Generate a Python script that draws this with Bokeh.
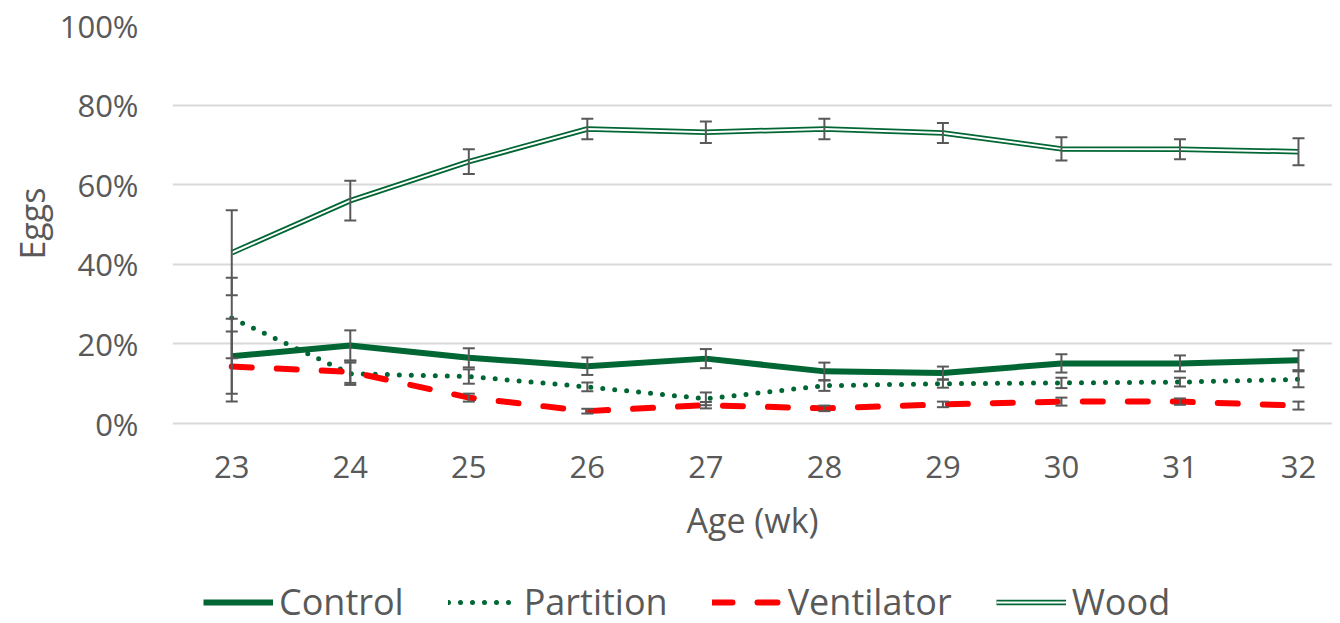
from bokeh.plotting import figure
from bokeh.models import (ColumnDataSource, Range1d, Whisker, TeeHead, Legend, LegendItem,
                          NumeralTickFormatter, FixedTicker, Title)
from bokeh.embed import file_html
from bokeh.resources import INLINE

# ---- data (percent) ----
ages = [23, 24, 25, 26, 27, 28, 29, 30, 31, 32]
control = [16.9, 19.6, 16.5, 14.4, 16.3, 13.1, 12.7, 15.1, 15.1, 15.9]
control_err = [9.4, 3.8, 2.4, 2.2, 2.4, 2.2, 1.6, 2.3, 2.0, 2.5]
partition = [26.5, 12.5, 11.8, 9.2, 6.2, 9.5, 10.0, 10.2, 10.4, 11.1]
partition_err = [10.1, 2.8, 1.8, 1.1, 1.6, 1.3, 1.0, 1.3, 1.1, 2.0]
ventilator = [14.3, 13.0, 6.5, 3.1, 4.6, 3.8, 4.8, 5.5, 5.5, 4.5]
ventilator_err = [8.8, 2.8, 1.0, 0.6, 0.8, 0.7, 0.7, 1.0, 0.8, 1.0]
wood = [42.9, 56.0, 65.8, 74.0, 73.2, 74.0, 73.0, 69.0, 68.9, 68.3]
wood_err = [10.7, 5.0, 3.1, 2.6, 2.7, 2.6, 2.5, 2.9, 2.5, 3.4]
y_ticks = [0, 0.2, 0.4, 0.6, 0.8, 1.0]

GREEN = "#006633"
RED = "#FF0000"
GRAY = "#595959"
FONT = "Open Sans"

# layout: the 0..100% band is 398 px tall; the frame extends below it to hold
# the x-axis labels and the legend
BAND_PX = 398
FRAME_H = 598
Y_START = 1 - FRAME_H / BAND_PX


def make_src(vals, errs):
    return ColumnDataSource(dict(
        x=ages,
        y=[v / 100 for v in vals],
        upper=[(v + e) / 100 for v, e in zip(vals, errs)],
        lower=[(v - e) / 100 for v, e in zip(vals, errs)],
    ))


src_c = make_src(control, control_err)
src_p = make_src(partition, partition_err)
src_v = make_src(ventilator, ventilator_err)
src_w = make_src(wood, wood_err)

p = figure(frame_width=1160, frame_height=FRAME_H, output_backend="svg", toolbar_location=None,
           x_range=Range1d(22.5, 32.287), y_range=Range1d(Y_START, 1),
           min_border_left=172, min_border_right=0, min_border_top=25, min_border_bottom=0)
p.outline_line_color = None
p.background_fill_color = "white"
p.border_fill_color = "white"

p.xgrid.visible = False
p.ygrid.grid_line_color = "#D9D9D9"
p.ygrid.grid_line_width = 2

p.yaxis.ticker = FixedTicker(ticks=y_ticks)
p.yaxis.formatter = NumeralTickFormatter(format="0%")
p.xaxis.ticker = FixedTicker(ticks=ages)
p.xaxis.fixed_location = 0

for ax in (p.xaxis[0], p.yaxis[0]):
    ax.axis_line_color = None
    ax.major_tick_line_color = None
    ax.minor_tick_line_color = None
    ax.major_tick_out = 0
    ax.major_tick_in = 0
    ax.major_label_text_font = FONT
    ax.major_label_text_color = GRAY
    ax.major_label_text_font_size = "31px"
    ax.axis_label_text_font = FONT
    ax.axis_label_text_color = GRAY
    ax.axis_label_text_font_size = "34px"
    ax.axis_label_text_font_style = "normal"

p.yaxis.major_label_standoff = 34
p.xaxis.axis_label = "Age (wk)"
p.xaxis.major_label_standoff = 32
p.xaxis.axis_label_standoff = 16

# y-axis title, centred on the 0..100% band rather than on the whole frame
p.add_layout(Title(text="Eggs", align="right", offset=162, vertical_align="top", standoff=0,
                   text_font=FONT, text_font_size="34px", text_color=GRAY,
                   text_font_style="normal"), "left")

r_c = p.line("x", "y", source=src_c, line_color=GREEN, line_width=6, line_join="round")
r_p = p.line("x", "y", source=src_p, line_color=GREEN, line_width=5, line_dash="0 12",
             line_cap="round", line_join="round")
r_v = p.line("x", "y", source=src_v, line_color=RED, line_width=6, line_dash="20 25",
             line_cap="round", line_join="round")
r_w1 = p.line("x", "y", source=src_w, line_color=GREEN, line_width=5.5, line_join="round")
r_w2 = p.line("x", "y", source=src_w, line_color="white", line_width=2, line_join="round")

for src in (src_w, src_c, src_p, src_v):
    w = Whisker(base="x", upper="upper", lower="lower", source=src,
                line_color=GRAY, line_width=2, level="annotation",
                upper_head=TeeHead(size=12, line_color=GRAY, line_width=2),
                lower_head=TeeHead(size=12, line_color=GRAY, line_width=2))
    p.add_layout(w)

legend = Legend(items=[
    LegendItem(label="Control", renderers=[r_c]),
    LegendItem(label="Partition", renderers=[r_p]),
    LegendItem(label="Ventilator", renderers=[r_v]),
    LegendItem(label="Wood", renderers=[r_w1, r_w2]),
], orientation="horizontal", location=(31, -3), glyph_width=70, glyph_height=20,
    label_standoff=6, spacing=44, padding=0, margin=0,
    border_line_alpha=0, background_fill_alpha=0,
    label_text_font=FONT, label_text_font_size="36px", label_text_color=GRAY)
p.add_layout(legend)

open("out.html", "w").write(file_html(p, INLINE))
